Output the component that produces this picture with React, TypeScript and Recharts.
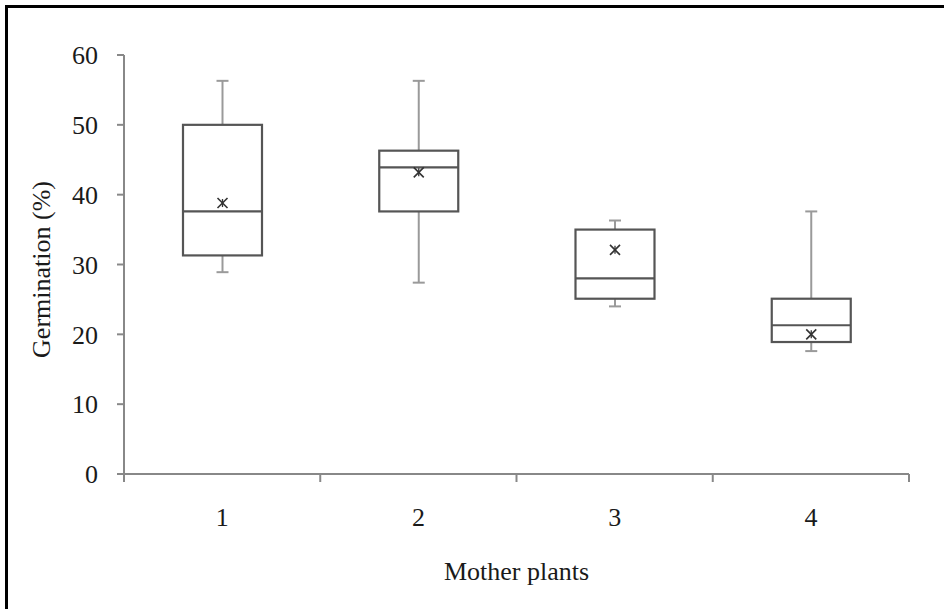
import React from 'react';
import { ComposedChart, Bar, XAxis, YAxis } from 'recharts';

const categories = ['1', '2', '3', '4'];
const minV = [28.9, 27.4, 24.0, 17.6];
const q1V = [31.3, 37.6, 25.1, 18.9];
const medianV = [37.6, 43.9, 28.0, 21.3];
const q3V = [50.0, 46.3, 35.0, 25.1];
const maxV = [56.3, 56.3, 36.3, 37.6];
const meanV = [38.8, 43.2, 32.1, 20.0];
const yTicks = [0, 10, 20, 30, 40, 50, 60];

const data = categories.map((c, i) => ({
  name: c,
  range: [minV[i], maxV[i]],
  min: minV[i],
  q1: q1V[i],
  median: medianV[i],
  q3: q3V[i],
  max: maxV[i],
  mean: meanV[i],
}));

const FONT = '"Liberation Serif", "Times New Roman", serif';
const FS = 26;
const BOX = '#555555';
const WHISK = '#9a9a9a';
const AXIS = '#888888';
const TXT = '#1a1a1a';

const BoxShape = (props: any) => {
  const { x, y, width, height, payload } = props;
  const top = Math.min(y, y + height);
  const h = Math.abs(height);
  const lo = payload.min;
  const hi = payload.max;
  const k = h / (hi - lo);
  const py = (v: number) => top + (hi - v) * k;
  const cx = x + width / 2;
  const capW = 6;
  const yMax = py(hi);
  const yMin = py(lo);
  const yQ1 = py(payload.q1);
  const yQ3 = py(payload.q3);
  const yMed = py(payload.median);
  const yMean = py(payload.mean);
  const m = 5;
  return (
    <g>
      <line x1={cx} x2={cx} y1={yMax} y2={yQ3} stroke={WHISK} strokeWidth={2} />
      <line x1={cx} x2={cx} y1={yQ1} y2={yMin} stroke={WHISK} strokeWidth={2} />
      <line x1={cx - capW} x2={cx + capW} y1={yMax} y2={yMax} stroke={WHISK} strokeWidth={2} />
      <line x1={cx - capW} x2={cx + capW} y1={yMin} y2={yMin} stroke={WHISK} strokeWidth={2} />
      <rect x={x} y={yQ3} width={width} height={yQ1 - yQ3} fill="#fff" stroke={BOX} strokeWidth={2.2} />
      <line x1={x} x2={x + width} y1={yMed} y2={yMed} stroke={BOX} strokeWidth={2.2} />
      <line x1={cx - m} x2={cx + m} y1={yMean - m} y2={yMean + m} stroke="#333" strokeWidth={1.6} />
      <line x1={cx - m} x2={cx + m} y1={yMean + m} y2={yMean - m} stroke="#333" strokeWidth={1.6} />
      <line x1={cx} x2={cx} y1={yMean - 4} y2={yMean + 4} stroke="#333" strokeWidth={1.3} />
    </g>
  );
};

const XTick = (props: any) => {
  const { x, y, payload, index, visibleTicksCount, width } = props;
  const band = width / visibleTicksCount;
  const axisY = y - 8;
  const left = x - band / 2;
  const right = x + band / 2;
  return (
    <g>
      <line x1={left} x2={left} y1={axisY} y2={axisY + 8} stroke={AXIS} strokeWidth={2} />
      {index === visibleTicksCount - 1 && (
        <line x1={right} x2={right} y1={axisY} y2={axisY + 8} stroke={AXIS} strokeWidth={2} />
      )}
      <text x={x} y={axisY + 52} textAnchor="middle" fontFamily={FONT} fontSize={FS} fill={TXT}>
        {payload.value}
      </text>
    </g>
  );
};

export default function App() {
  return (
    <div style={{ position: 'absolute', left: 0, top: 0, width: 944, height: 609, background: '#fff' }}>
      <div
        style={{
          position: 'absolute',
          left: 5,
          top: 5,
          width: 944,
          height: 609,
          borderTop: '3px solid #000',
          borderLeft: '3px solid #000',
          boxSizing: 'border-box',
        }}
      />
      <div style={{ position: 'absolute', left: 0, top: 0 }}>
        <ComposedChart
          width={944}
          height={609}
          data={data}
          margin={{ top: 55, right: 35, bottom: 75, left: 0 }}
        >
          <XAxis
            dataKey="name"
            interval={0}
            height={60}
            axisLine={{ stroke: AXIS, strokeWidth: 2 }}
            tickLine={false}
            tick={<XTick />}
            label={{
              content: (p: any) => {
                const vb = p.viewBox;
                return (
                  <text
                    x={vb.x + vb.width / 2}
                    y={vb.y + 106}
                    textAnchor="middle"
                    fontFamily={FONT}
                    fontSize={FS}
                    fill={TXT}
                  >
                    Mother plants
                  </text>
                );
              },
            }}
          />
          <YAxis
            type="number"
            domain={[0, 60]}
            ticks={yTicks}
            interval={0}
            width={124}
            tickSize={7}
            tickMargin={19}
            axisLine={{ stroke: AXIS, strokeWidth: 2 }}
            tickLine={{ stroke: AXIS, strokeWidth: 2 }}
            tick={{ fontFamily: FONT, fontSize: FS, fill: TXT }}
            label={{
              content: (p: any) => {
                const vb = p.viewBox;
                const cx = vb.x + 41;
                const cy = vb.y + vb.height / 2 + 5;
                return (
                  <text
                    x={cx}
                    y={cy}
                    transform={`rotate(-90 ${cx} ${cy})`}
                    textAnchor="middle"
                    dominantBaseline="central"
                    fontFamily={FONT}
                    fontSize={FS}
                    fill={TXT}
                  >
                    Germination (%)
                  </text>
                );
              },
            }}
          />
          <Bar dataKey="range" barSize={79} isAnimationActive={false} shape={<BoxShape />} />
        </ComposedChart>
      </div>
    </div>
  );
}
